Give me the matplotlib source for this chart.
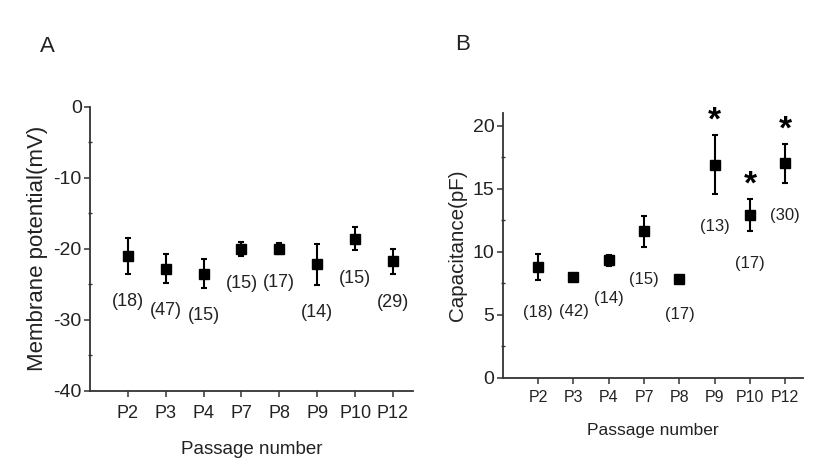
import matplotlib
matplotlib.use("Agg")
from matplotlib import pyplot as plt
from matplotlib.ticker import MultipleLocator

plt.rcParams['font.family'] = ['Liberation Sans', 'DejaVu Sans']
plt.rcParams['axes.unicode_minus'] = False

passages = ['P2', 'P3', 'P4', 'P7', 'P8', 'P9', 'P10', 'P12']

# A: membrane potential (mV), mean and error
vm_mean = [-21.0, -22.8, -23.5, -20.0, -20.0, -22.2, -18.6, -21.8]
vm_err = [2.5, 2.0, 2.0, 1.0, 0.8, 2.9, 1.6, 1.8]
vm_n = [18, 47, 15, 15, 17, 14, 15, 29]

# B: capacitance (pF), mean and error
cap_mean = [8.8, 8.0, 9.3, 11.6, 7.85, 16.9, 12.9, 17.0]
cap_err = [1.05, 0.2, 0.45, 1.25, 0.25, 2.35, 1.25, 1.55]
cap_n = [18, 42, 14, 15, 17, 13, 17, 30]
cap_sig = [False, False, False, False, False, True, True, True]

axis_col = '#333333'
text_col = '#222222'

fig = plt.figure(figsize=(8.27, 4.66), dpi=100)
axA = fig.add_axes([0.1088, 0.1616, 0.3906, 0.6094])
axB = fig.add_axes([0.608, 0.1895, 0.363, 0.568])

x = list(range(1, len(passages) + 1))


def style_axis(ax, xsize, ysize, xpad):
    for side in ['top', 'right']:
        ax.spines[side].set_visible(False)
    for side in ['left', 'bottom']:
        ax.spines[side].set_color(axis_col)
        ax.spines[side].set_linewidth(1.3)
    ax.set_xticks(x)
    ax.set_xticklabels(passages)
    ax.tick_params(axis='both', which='major', direction='out', length=4,
                   width=1.1, color=axis_col, labelcolor=text_col)
    ax.tick_params(axis='x', labelsize=xsize, pad=xpad)
    ax.tick_params(axis='y', labelsize=ysize, pad=2)
    ax.tick_params(axis='y', which='minor', direction='inout', length=3,
                   width=1.0, color=axis_col)
    ax.tick_params(axis='x', which='minor', bottom=False)


# panel A
axA.errorbar(x, vm_mean, yerr=vm_err, fmt='s', color='black', ms=7,
             capsize=2.5, elinewidth=1.5, capthick=1.5)
axA.set_ylim(-40, 0)
axA.set_xlim(0, 8.53)
axA.yaxis.set_major_locator(MultipleLocator(10))
axA.yaxis.set_minor_locator(MultipleLocator(5))
style_axis(axA, 13, 14, 6)
for xi, m, e, n in zip(x, vm_mean, vm_err, vm_n):
    axA.annotate('(%d)' % n, (xi, m - e), xytext=(0, -14), textcoords='offset points',
                 ha='center', va='top', fontsize=13, color=text_col)
axA.set_ylabel('Membrane potential(mV)', fontsize=16, color=text_col, labelpad=4)
axA.set_xlabel('Passage number', fontsize=13.5, color=text_col, labelpad=14)

# panel B
axB.errorbar(x, cap_mean, yerr=cap_err, fmt='s', color='black', ms=7,
             capsize=2.5, elinewidth=1.5, capthick=1.5)
axB.set_ylim(0, 21)
axB.set_xlim(0, 8.5)
axB.yaxis.set_major_locator(MultipleLocator(5))
axB.yaxis.set_minor_locator(MultipleLocator(2.5))
style_axis(axB, 11.5, 14, 5)
for xi, m, e, n, s in zip(x, cap_mean, cap_err, cap_n, cap_sig):
    axB.annotate('(%d)' % n, (xi, m - e), xytext=(0, -18), textcoords='offset points',
                 ha='center', va='top', fontsize=12, color=text_col)
    if s:
        axB.annotate('*', (xi, m + e), xytext=(0, -1), textcoords='offset points',
                     ha='center', va='bottom', fontsize=24, fontweight='bold',
                     color='black')
axB.set_ylabel('Capacitance(pF)', fontsize=14.8, color=text_col, labelpad=4)
axB.set_xlabel('Passage number', fontsize=12.5, color=text_col, labelpad=13)

fig.text(40 / 827, 1 - 47 / 466, 'A', fontsize=16, color=text_col, ha='left', va='center')
fig.text(455 / 827, 1 - 44 / 466, 'B', fontsize=16, color=text_col, ha='left', va='center')

fig.savefig('out.png', dpi=100)
